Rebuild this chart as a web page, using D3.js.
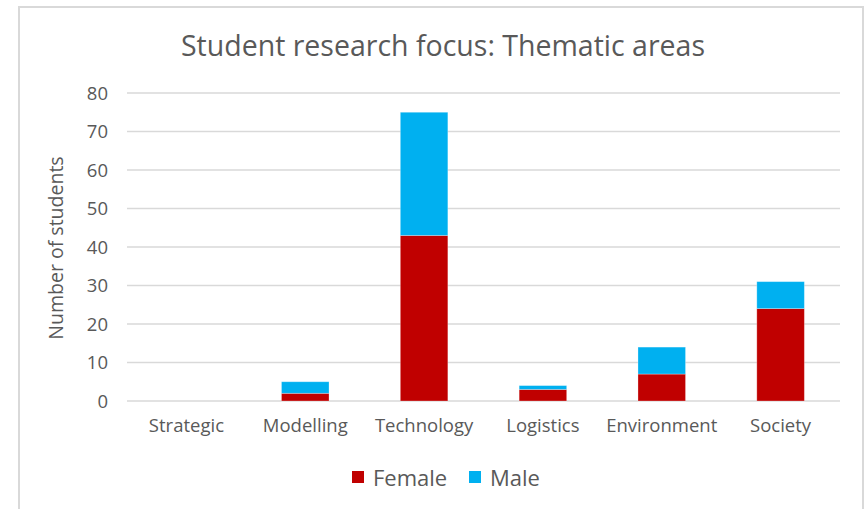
<!DOCTYPE html>
<html><head><meta charset="utf-8">
<script src="https://cdn.jsdelivr.net/npm/d3@7"></script>
<style>body{margin:0;background:#fff}svg{display:block}text{font-family:"Open Sans",sans-serif;fill:#595959}</style>
</head><body><svg id="c" width="866" height="509"></svg>
<script>
const categories = ["Strategic","Modelling","Technology","Logistics","Environment","Society"];
const female = [0,2,43,3,7,24];
const male = [0,3,32,1,7,7];
const yTicks = [0,10,20,30,40,50,60,70,80];
const seriesNames = ["Female","Male"];
const colors = ["#C00000","#00B0F0"];

const svg = d3.select("#c");
svg.append("rect").attr("x",19).attr("y",7).attr("width",844).attr("height",510).attr("fill","#fff").attr("stroke","#d9d9d9").attr("stroke-width",2);

const x = d3.scaleBand().domain(categories).range([127,840]).paddingInner(0.6).paddingOuter(0.3);
const y = d3.scaleLinear().domain([0,80]).range([401,93]);

// grid
svg.append("g").selectAll("line").data(yTicks).join("line")
  .attr("x1",127).attr("x2",840).attr("y1",d=>y(d)).attr("y2",d=>y(d))
  .attr("stroke","#d9d9d9").attr("stroke-width",1.3);

const yAxis = svg.append("g").attr("transform","translate(108,0)")
  .call(d3.axisLeft(y).tickValues(yTicks).tickSize(0).tickPadding(0));
yAxis.select(".domain").remove();
yAxis.selectAll("text").attr("font-size",18.5).style("font-family","'Open Sans',sans-serif").attr("fill","#595959").attr("dy","0.35em");

const xAxis = svg.append("g").attr("transform","translate(0,401)")
  .call(d3.axisBottom(x).tickSize(0).tickPadding(20));
xAxis.select(".domain").remove();
xAxis.selectAll("text").attr("font-size",18.5).style("font-family","'Open Sans',sans-serif").attr("fill","#595959").attr("dy","0.6em");

const stackData = categories.map((c,i)=>({cat:c,Female:female[i],Male:male[i]}));
const stacked = d3.stack().keys(seriesNames)(stackData);
svg.append("g").selectAll("g").data(stacked).join("g").attr("fill",(d,i)=>colors[i])
  .selectAll("rect").data(d=>d.filter(p=>p[1]-p[0]>0)).join("rect")
  .attr("x",d=>x(d.data.cat)).attr("width",x.bandwidth())
  .attr("y",d=>y(d[1])).attr("height",d=>y(d[0])-y(d[1]))
  .attr("stroke","rgba(255,255,255,0.35)").attr("stroke-width",0.8);

svg.append("text").attr("x",443).attr("y",56).attr("text-anchor","middle").attr("font-size",28.5)
  .text("Student research focus: Thematic areas");

svg.append("text").attr("transform","translate(63,248) rotate(-90)").attr("text-anchor","middle").attr("font-size",19.5)
  .text("Number of students");

const legX = [352,469];
const leg = svg.append("g").selectAll("g").data(seriesNames).join("g")
  .attr("transform",(d,i)=>`translate(${legX[i]},471)`);
leg.append("rect").attr("width",12).attr("height",12).attr("fill",(d,i)=>colors[i]);
leg.append("text").attr("x",21).attr("y",7).attr("dy","0.35em").attr("font-size",22).text(d=>d);
</script></body></html>
